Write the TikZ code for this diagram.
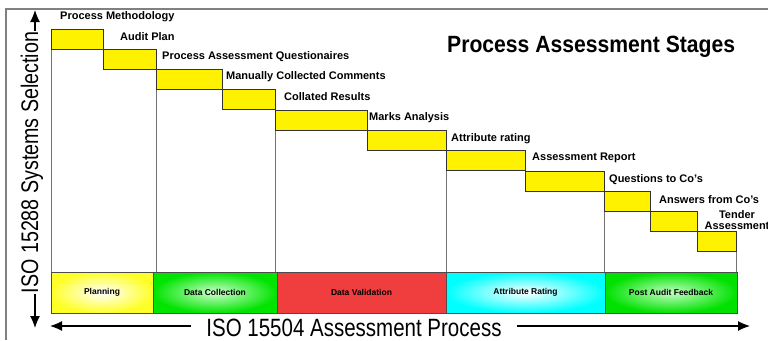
\documentclass[tikz,border=0pt]{standalone}
\usepackage{fontspec}
\setmainfont{Liberation Sans}
\newfontfamily\axisfont[FakeStretch=0.82]{Liberation Sans}
\newfontfamily\headfont[FakeStretch=0.9]{Liberation Sans}
\usetikzlibrary{arrows.meta}

\definecolor{planout}{RGB}{255,255,40}
\definecolor{collin}{RGB}{205,255,205}
\definecolor{collout}{RGB}{0,228,0}
\definecolor{valred}{RGB}{240,62,62}
\definecolor{attrout}{RGB}{0,255,255}
\definecolor{postin}{RGB}{195,255,195}
\definecolor{postout}{RGB}{0,225,0}

\begin{document}
\begin{tikzpicture}[x=1pt, y=-1pt,
    stagebar/.style={draw=black!80, fill=yellow, line width=0.7pt},
    gridline/.style={draw=black!55, line width=0.8pt},
    steplabel/.style={anchor=west, inner sep=0pt, font=\bfseries\fontsize{11}{11}\selectfont},
    phasebox/.style={draw=black!70, line width=0.7pt},
    phaselabel/.style={font=\bfseries\fontsize{8.5}{9}\selectfont},
    axisarrow/.style={-{Latex[length=12pt,width=10pt]}, line width=1.2pt}]
        \useasboundingbox (0,0) rectangle (768,340);

        % Frame
        \draw[black!50, line width=1.5pt] (6,340) -- (6,9) -- (768,9);

        % Title
        \node[anchor=base west, inner sep=0pt, font=\headfont\bfseries\fontsize{23.5}{26}\selectfont] (title) at (447,52) {Process Assessment Stages};

        % Phase separators
        \foreach \x/\y in {51/29, 156/69, 275/110, 446/150, 604/191, 736/231} {
            \draw[gridline] (\x,\y) -- (\x,272);
        }

        % Stages
        \foreach \xa/\xb/\ya in {51/103/29, 103/156/49, 156/222/69, 222/275/89, 275/367/110, 367/446/130,
                                 446/525/150, 525/604/171, 604/650/191, 650/697/211, 697/736/231} {
            \draw[stagebar] (\xa,\ya) rectangle (\xb,{\ya+20});
        }

        %% labels
        \foreach \x/\y/\txt [count=\i] in {60/17/Process Methodology, 120/37/Audit Plan,
                                           162/57/Process Assessment Questionaires, 226/77/Manually Collected Comments,
                                           284/97/Collated Results, 369/118/Marks Analysis,
                                           451/139/Attribute rating, 532/158/Assessment Report,
                                           609/180/Questions to Co's, 659/200/Answers from Co's} {
            \node[steplabel] (step\i) at (\x,\y) {\txt};
        }
        \node[steplabel, anchor=center, align=center] (step11) at (737,220.5) {Tender\\Assessment};

        % Phases
        \foreach \xa/\xb/\cin/\cout/\txt [count=\i] in {51/153/white/planout/Planning, 153/277/collin/collout/Data Collection,
                                                         277/446/valred/valred/Data Validation, 446/605/white/attrout/Attribute Rating,
                                                         605/737/postin/postout/Post Audit Feedback} {
            \shade[phasebox, inner color=\cin, outer color=\cout] (\xa,272) rectangle (\xb,313);
            \node[phaselabel] (phase\i) at ({(\xa+\xb)/2},292.5) {\txt};
        }

        % Axes
        %% |
        \node[rotate=90, anchor=base, inner sep=1pt, font=\axisfont\fontsize{24}{26}\selectfont] (isoleft) at (38,162.5) {ISO 15288 Systems Selection};
        \coordinate (lefttop) at (35,10);
        \coordinate (leftbot) at (35,328);
        \draw[axisarrow] (isoleft.east -| lefttop) -- (lefttop);
        \draw[axisarrow] (isoleft.west -| leftbot) -- (leftbot);
        %% -
        \node[anchor=base, font=\axisfont\fontsize{25}{27}\selectfont] (isobottom) at (354,336) {ISO 15504 Assessment Process};
        \coordinate (botleft) at (50,326);
        \coordinate (botright) at (750,326);
        \draw[axisarrow, shorten <=12pt] (isobottom.west |- botleft) -- (botleft);
        \draw[axisarrow, shorten <=12pt] (isobottom.east |- botright) -- (botright);

\end{tikzpicture}
\end{document}
